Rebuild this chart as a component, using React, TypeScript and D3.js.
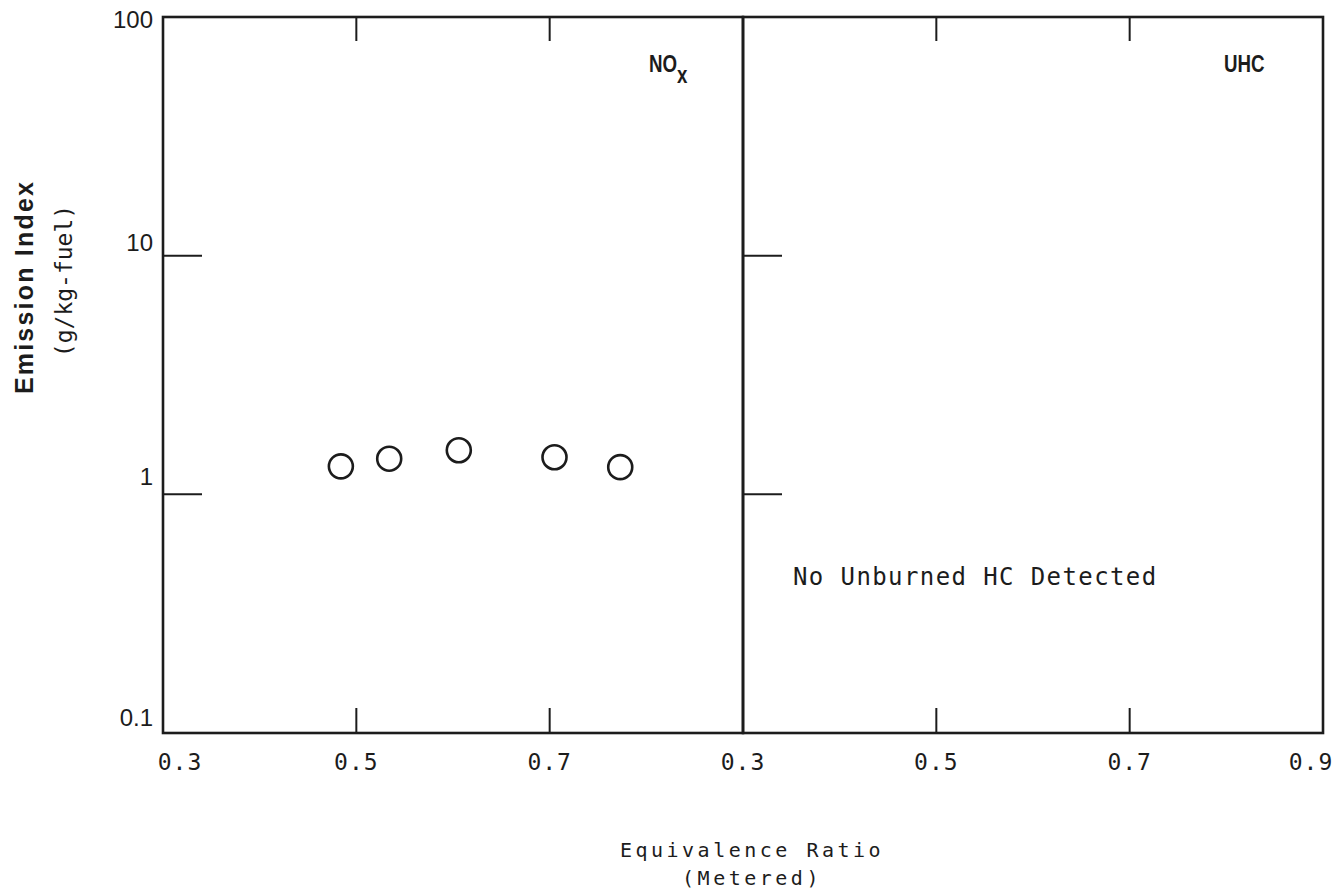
import React from "react";
import * as d3 from "d3";

// NOx emission index vs metered equivalence ratio
const noxPhi = [0.484, 0.534, 0.606, 0.705, 0.773];
const noxEI = [1.31, 1.41, 1.53, 1.43, 1.30];

const xTicks = [0.3, 0.5, 0.7, 0.9];
const yTicks = [0.1, 1, 10, 100];
const yTickLabels = ["0.1", "1", "10", "100"];
const panels = ["NOx", "UHC"];

const W = 1340;
const H = 896;
const left = 163;
const panelW = 580;
const top = 17;
const bottom = 733;
const ink = "#1c1c1c";
const mono = "'DejaVu Sans Mono', 'Liberation Mono', monospace";
const sans = "'Liberation Sans', 'DejaVu Sans', sans-serif";

// baseline offsets of the y tick labels relative to their tick
const yLabelShift = [-7, -9, -5, 11];

export default function App() {
  const y = d3.scaleLog().domain([0.1, 100]).range([bottom, top]);
  const xFor = (i: number) =>
    d3.scaleLinear().domain([0.3, 0.9]).range([left + i * panelW, left + (i + 1) * panelW]);
  const x0 = xFor(0);

  return (
    <svg width={W} height={H} style={{ display: "block", background: "#fff", margin: "-8px" }}>
      {panels.map((p, i) => {
        const x = xFor(i);
        const [xa, xb] = x.range();
        return (
          <g key={p}>
            <rect x={xa} y={top} width={xb - xa} height={bottom - top} fill="none" stroke={ink} strokeWidth={2.6} />
            {xTicks.slice(1, -1).map((t) => (
              <g key={t}>
                <line x1={x(t)} x2={x(t)} y1={top} y2={top + 24} stroke={ink} strokeWidth={2} />
                <line x1={x(t)} x2={x(t)} y1={bottom} y2={bottom - 25} stroke={ink} strokeWidth={2} />
              </g>
            ))}
            {yTicks.slice(1, -1).map((t) => (
              <line key={t} x1={xa} x2={xa + 39} y1={y(t)} y2={y(t)} stroke={ink} strokeWidth={2} />
            ))}
            {xTicks.map((t, k) => {
              if (i === 0 && k === xTicks.length - 1) return null;
              const dx = i === 0 && k === 0 ? 17 : k === xTicks.length - 1 ? -12 : 0;
              return (
                <text key={t} x={x(t) + dx} y={770} textAnchor="middle" fontFamily={mono} fontSize={23} letterSpacing={1} fill={ink}>
                  {t.toFixed(1)}
                </text>
              );
            })}
          </g>
        );
      })}

      {yTicks.map((t, k) => (
        <text key={t} x={153} y={y(t) + yLabelShift[k]} textAnchor="end" fontFamily={sans} fontSize={24} fill={ink}>
          {yTickLabels[k]}
        </text>
      ))}

      {noxPhi.map((phi, k) => (
        <circle key={phi} cx={x0(phi)} cy={y(noxEI[k])} r={12} fill="none" stroke={ink} strokeWidth={2.6} />
      ))}

      <g transform="translate(649,72) scale(0.78,1)">
        <text x={0} y={0} fontFamily={sans} fontWeight="bold" fontSize={24} fill={ink}>
          NO
          <tspan dy={11}>x</tspan>
        </text>
      </g>
      <g transform="translate(1224,72) scale(0.78,1)">
        <text x={0} y={0} fontFamily={sans} fontWeight="bold" fontSize={24} fill={ink}>
          UHC
        </text>
      </g>

      <text x={793} y={585} fontFamily={mono} fontSize={24} letterSpacing={1.4} fill={ink}>
        No Unburned HC Detected
      </text>

      <text x={752} y={857} textAnchor="middle" fontFamily={mono} fontSize={20} letterSpacing={3.5} fill={ink}>
        Equivalence Ratio
      </text>
      <text x={752} y={885} textAnchor="middle" fontFamily={mono} fontSize={20} letterSpacing={3.5} fill={ink}>
        (Metered)
      </text>

      <text transform="translate(33,287) rotate(-90)" textAnchor="middle" fontFamily={sans} fontWeight="bold" fontSize={25} letterSpacing={2.2} fill={ink}>
        Emission Index
      </text>
      <text transform="translate(72,281) rotate(-90)" textAnchor="middle" fontFamily={mono} fontSize={23} fill={ink}>
        (g/kg-fuel)
      </text>
    </svg>
  );
}
